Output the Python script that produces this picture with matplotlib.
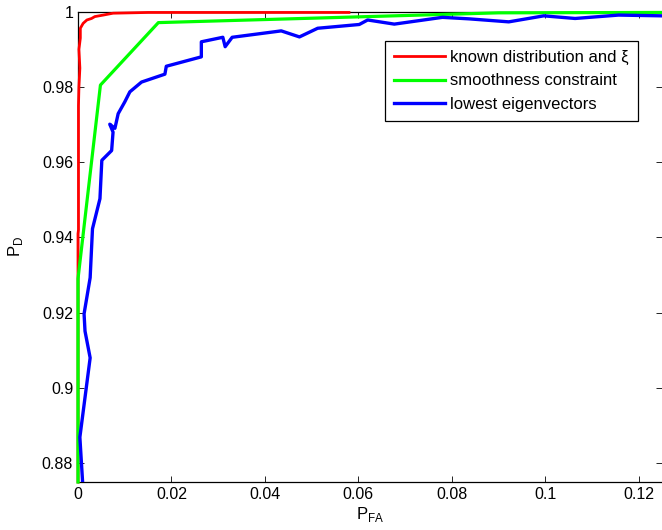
import matplotlib
matplotlib.use("Agg")
import matplotlib.pyplot as plt

plt.rcParams['font.family'] = ['Liberation Sans', 'DejaVu Sans']
plt.rcParams['mathtext.fontset'] = 'custom'
plt.rcParams['mathtext.rm'] = 'Liberation Sans'

# curve data (P_FA, P_D)
red_x = [0, 0, 0.0001, 0.0001, 0.0002, 0.0004, 0.0002, 0.0005, 0.0005, 0.0011, 0.0019,
         0.0029, 0.0036, 0.0054, 0.0075, 0.015, 0.058]
red_y = [0.875, 0.941, 0.942, 0.975, 0.980, 0.985, 0.990, 0.993, 0.9956, 0.9969, 0.9978,
         0.9982, 0.9987, 0.9991, 0.9996, 0.9998, 0.9998]

green_x = [0, 0, 0.0048, 0.0172, 0.09, 0.125]
green_y = [0.875, 0.929, 0.9805, 0.9971, 0.9997, 0.9998]

blue_x = [0.0010, 0.0004, 0.0026, 0.0015, 0.0013, 0.0026, 0.0031, 0.0047, 0.0051, 0.0072,
          0.0075, 0.0068, 0.0079, 0.0086, 0.0100, 0.0111, 0.0136, 0.0186, 0.0189, 0.0264,
          0.0264, 0.0310, 0.0315, 0.0330, 0.0435, 0.0474, 0.0513, 0.0602, 0.0620, 0.0677,
          0.0780, 0.0837, 0.0922, 0.0997, 0.1064, 0.1157, 0.1250]
blue_y = [0.8747, 0.8869, 0.9080, 0.9151, 0.9197, 0.9293, 0.9423, 0.9503, 0.9605, 0.9631,
          0.9680, 0.9701, 0.9690, 0.9729, 0.9760, 0.9787, 0.9813, 0.9834, 0.9855, 0.9880,
          0.9920, 0.9932, 0.9907, 0.9932, 0.9949, 0.9933, 0.9956, 0.9966, 0.9978, 0.9967,
          0.9985, 0.9981, 0.9973, 0.9989, 0.9982, 0.9991, 0.9989]

labels = ['known distribution and ξ', 'smoothness constraint', 'lowest eigenvectors']
xticks = [0, 0.02, 0.04, 0.06, 0.08, 0.1, 0.12]
xtick_labels = ['0', '0.02', '0.04', '0.06', '0.08', '0.1', '0.12']
yticks = [0.88, 0.9, 0.92, 0.94, 0.96, 0.98, 1.0]
ytick_labels = ['0.88', '0.9', '0.92', '0.94', '0.96', '0.98', '1']

fig = plt.figure(figsize=(6.62, 5.30), dpi=100)
ax = fig.add_axes([78 / 662, 1 - 482 / 530, 584 / 662, 470.3 / 530])

ax.plot(red_x, red_y, color='#ff0000', lw=2.0, label=labels[0], clip_on=False, zorder=3)
ax.plot(green_x, green_y, color='#00ff00', lw=2.3, label=labels[1], clip_on=False, zorder=3)
ax.plot(blue_x, blue_y, color='#0000ff', lw=2.4, label=labels[2], zorder=3)

ax.set_xlim(0, 0.125)
ax.set_ylim(0.875, 1.0)
ax.set_xticks(xticks)
ax.set_xticklabels(xtick_labels)
ax.set_yticks(yticks)
ax.set_yticklabels(ytick_labels)
ax.tick_params(direction='in', top=True, right=True, labelsize=11.5, length=4, width=0.6)
ax.spines['right'].set_visible(False)
for s in ['left', 'top', 'bottom']:
    ax.spines[s].set_linewidth(0.9)

ax.set_xlabel(r'P$_\mathrm{FA}$', fontsize=12, labelpad=2)
ax.set_ylabel(r'P$_\mathrm{D}$', fontsize=12, labelpad=12)

leg = ax.legend(loc='upper right', bbox_to_anchor=(0.959, 0.938), fontsize=12,
                fancybox=False, edgecolor='black', framealpha=1, borderaxespad=0,
                handlelength=3.05, labelspacing=0.5, borderpad=0.55, handletextpad=0.32)
leg.get_frame().set_linewidth(0.9)

fig.savefig('out.png', dpi=100)
